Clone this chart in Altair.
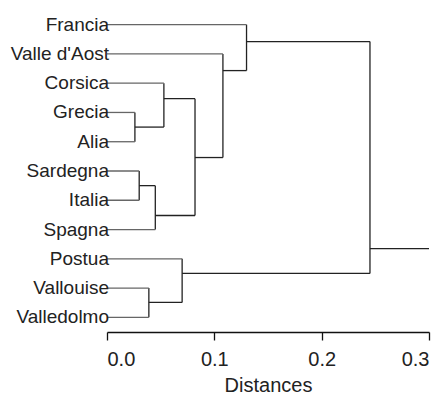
import altair as alt
import pandas as pd

# Leaves (top to bottom)
leaf_names = ["Francia", "Valle d'Aost", "Corsica", "Grecia", "Alia", "Sardegna",
              "Italia", "Spagna", "Postua", "Vallouise", "Valledolmo"]
leaf_pos = [0, 1, 2, 3, 4, 5, 6, 7, 8, 9, 10]

# Merges: child A id, child B id, distance, vertical position of outgoing line
# ids 0..10 are leaves, 11.. are merges in this order
merge_a = [3, 2, 5, 13, 12, 1, 0, 9, 8, 17]
merge_b = [4, 11, 6, 7, 14, 15, 16, 10, 18, 19]
merge_dist = [0.026, 0.053, 0.030, 0.045, 0.082, 0.108, 0.130, 0.039, 0.070, 0.245]
merge_pos = [3.5, 2.53, 5.5, 6.52, 4.54, 1.57, 0.58, 9.49, 8.5, 7.65]
root_end = 0.30

n_leaf = len(leaf_names)
node_h = {i: 0.0 for i in range(n_leaf)}
node_y = {i: float(p) for i, p in enumerate(leaf_pos)}
for k in range(len(merge_a)):
    node_h[n_leaf + k] = merge_dist[k]
    node_y[n_leaf + k] = merge_pos[k]

segs = []
for k in range(len(merge_a)):
    a, b, h = merge_a[k], merge_b[k], merge_dist[k]
    segs.append(dict(x=h, x2=h, y=node_y[a], y2=node_y[b], kind="node"))
    for c in (a, b):
        segs.append(dict(x=node_h[c], x2=h, y=node_y[c], y2=node_y[c],
                         kind="leaf" if c < n_leaf else "node"))
root = n_leaf + len(merge_a) - 1
segs.append(dict(x=node_h[root], x2=root_end, y=node_y[root], y2=node_y[root], kind="node"))
seg_df = pd.DataFrame(segs)
lab_df = pd.DataFrame({"name": leaf_names, "pos": leaf_pos, "x": [0.0] * n_leaf})

xscale = alt.Scale(domain=[0, 0.3], nice=False, zero=False)
yscale = alt.Scale(domain=[-0.5, 10.5], reverse=True, nice=False, zero=False)

lines = alt.Chart(seg_df).mark_rule(strokeWidth=1.3).encode(
    x=alt.X("x:Q", scale=xscale,
            axis=alt.Axis(title="Distances", values=[0, 0.1, 0.2, 0.3], format=".1f",
                          grid=False, domainColor="#111", domainWidth=1.3,
                          tickColor="#111", tickSize=8, tickWidth=1.3,
                          labelFontSize=20, labelColor="#222", labelFont="Liberation Sans",
                          labelPadding=9, titleFontSize=20, titleFont="Liberation Sans",
                          titleFontWeight="normal", titleColor="#222", titlePadding=6)),
    x2="x2:Q",
    y=alt.Y("y:Q", scale=yscale, axis=None),
    y2="y2:Q",
    color=alt.Color("kind:N", scale=alt.Scale(domain=["leaf", "node"], range=["#666666", "#222222"]),
                    legend=None),
)

labels = alt.Chart(lab_df).mark_text(align="right", baseline="middle", dx=2,
                                     fontSize=19, font="Liberation Sans", color="#222").encode(
    x=alt.X("x:Q", scale=xscale),
    y=alt.Y("pos:Q", scale=yscale),
    text="name:N",
)

chart = alt.layer(lines, labels).properties(
    width=322, height=322,
    autosize=alt.AutoSizeParams(type="none"),
    padding={"left": 99, "top": 2, "right": 8, "bottom": 64},
).configure_view(stroke=None)

chart.save("out.html", embed_options={"renderer": "svg", "actions": False})
